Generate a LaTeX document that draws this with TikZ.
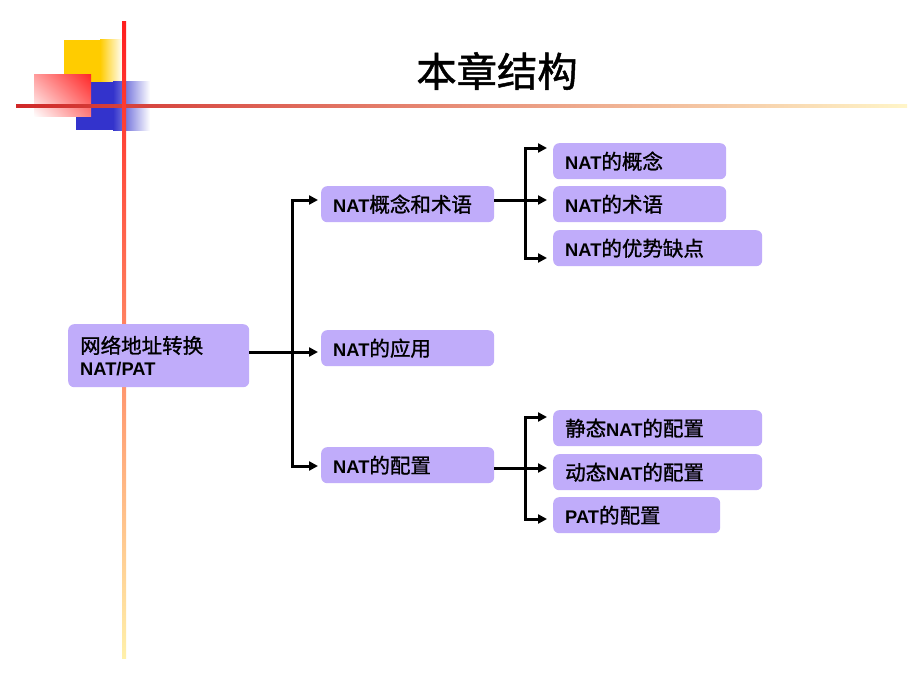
\documentclass[tikz,border=0pt]{standalone}
\usepackage{fontspec}
\setmainfont{Liberation Sans}
\newfontfamily\cjk[Scale=1.12,FakeBold=1.2]{Noto Sans CJK SC}
\newcommand\zh[1]{{\cjk #1}}
\usetikzlibrary{arrows.meta,shadings}
\definecolor{boxfill}{RGB}{192,172,250}
\definecolor{decoyellow}{RGB}{255,204,0}
\definecolor{decoblue}{RGB}{51,51,204}
\definecolor{decored}{RGB}{255,40,40}
\definecolor{lineleft}{RGB}{208,40,40}
\definecolor{linemid}{RGB}{240,176,140}
\definecolor{lineright}{RGB}{255,245,200}
\definecolor{vtop}{RGB}{255,30,30}
\definecolor{vmid}{RGB}{255,170,130}
\definecolor{vbottom}{RGB}{255,240,170}
\begin{document}
\begin{tikzpicture}[x=1pt,y=-1pt]
\tikzstyle{every node}+=[font=\fontsize{18.3}{22}\selectfont]
\tikzstyle{item}=[fill=boxfill, rounded corners=6pt, anchor=north west, minimum height=36pt, inner xsep=12pt, inner ysep=0pt, align=left]
\tikzstyle{link}=[line width=3pt, -{Triangle[length=9pt,width=9pt]}]
\useasboundingbox (0,0) rectangle (920,690);
\fill [white] (0,0) rectangle (920,690);
\fill [decoyellow] (64,40) rectangle (100,82);
\shade [left color=decoyellow, right color=white] (100,40) rectangle (123,82);
\fill [decoblue] (76,82) rectangle (113,130);
\shade [left color=decoblue, right color=white] (113,82) rectangle (150,130);
\shade [upper left=decored!45, upper right=decored, lower left=white, lower right=decored!60] (34,75) rectangle (91,117);
\shade [left color=lineleft, middle color=linemid, right color=lineright] (16,104.5) rectangle (907,107.5);
\shade [top color=vtop, middle color=vmid, bottom color=vbottom] (122,22) rectangle (126,658);
\node (title) at (497,71) {\fontsize{36}{40}\selectfont\zh{本章结构}};
\node [item, text width=157pt, minimum height=63pt] (nat) at (68,324) {\zh{网络地址转换}\\\textbf{NAT/PAT}};
\node [item, text width=149pt] (term) at (321,186) {\textbf{NAT}\zh{概念和术语}};
\node [item, text width=149pt] (use) at (321,330) {\textbf{NAT}\zh{的应用}};
\node [item, text width=149pt] (conf) at (321,447) {\textbf{NAT}\zh{的配置}};
\node [item, text width=149pt] (concept) at (553,143) {\textbf{NAT}\zh{的概念}};
\node [item, text width=149pt] (words) at (553,186) {\textbf{NAT}\zh{的术语}};
\node [item, text width=185pt] (pros) at (553,230) {\textbf{NAT}\zh{的优势缺点}};
\node [item, text width=185pt] (static) at (553,410) {\zh{静态}\textbf{NAT}\zh{的配置}};
\node [item, text width=185pt] (dynamic) at (553,454) {\zh{动态}\textbf{NAT}\zh{的配置}};
\node [item, text width=143pt] (pat) at (553,497) {\textbf{PAT}\zh{的配置}};
\coordinate (b0) at (292,352);
\coordinate (b1) at (292,200);
\coordinate (b2) at (292,466);
\draw [link, shorten >=3pt] (nat.east |- b0) -- (b0 -| use.west);
\draw [link, shorten >=3pt] (b0) -- (b1) -- (b1 -| term.west);
\draw [link, shorten >=3pt] (b0) -- (b2) -- (b2 -| conf.west);
\coordinate (a0) at (525,200);
\coordinate (a1) at (525,148);
\coordinate (a2) at (525,258);
\draw [link, shorten >=6pt] (term.east |- a0) -- (a0 -| words.west);
\draw [link, shorten >=6pt] (a0) -- (a1) -- (a1 -| concept.west);
\draw [link, shorten >=6pt] (a0) -- (a2) -- (a2 -| pros.west);
\coordinate (c0) at (525,468);
\coordinate (c1) at (525,417);
\coordinate (c2) at (525,519);
\draw [link, shorten >=6pt] (conf.east |- c0) -- (c0 -| dynamic.west);
\draw [link, shorten >=6pt] (c0) -- (c1) -- (c1 -| static.west);
\draw [link, shorten >=6pt] (c0) -- (c2) -- (c2 -| pat.west);
\end{tikzpicture}
\end{document}
